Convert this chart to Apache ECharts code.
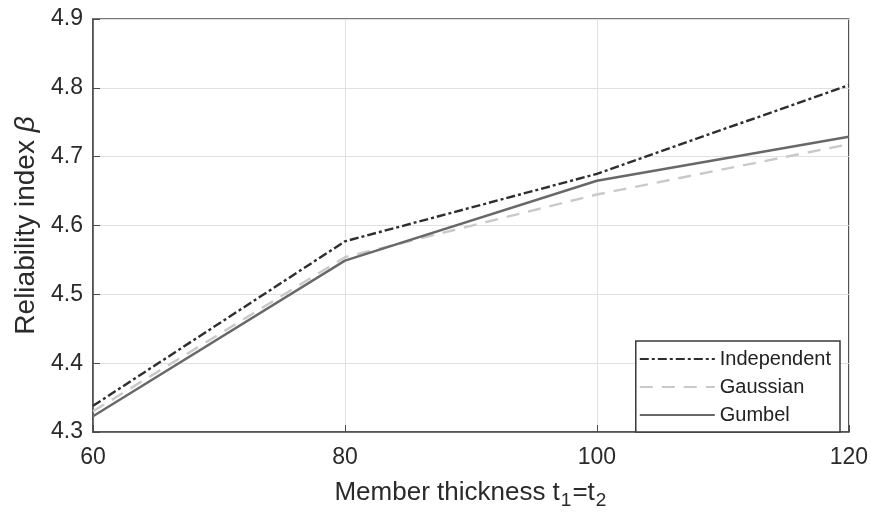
<!DOCTYPE html>
<html><head><meta charset="utf-8">
<script src="https://cdn.jsdelivr.net/npm/echarts@6/dist/echarts.min.js"></script>
<style>html,body{margin:0;padding:0;background:#fff}#c{width:871px;height:515px}</style>
</head><body><div id="c"></div>
<script>
var thickness = [60, 80, 100, 120];
var independent = [4.338, 4.577, 4.675, 4.804];
var gaussian = [4.330, 4.554, 4.645, 4.718];
var gumbel = [4.323, 4.549, 4.665, 4.729];
var seriesNames = ['Independent', 'Gaussian', 'Gumbel'];

function pairs(v){ return thickness.map(function(x,i){ return [x, v[i]]; }); }
var font = 'Liberation Sans, Arial, sans-serif';
var chart = echarts.init(document.getElementById('c'));
chart.setOption({
  backgroundColor: '#fff',
  animation: false,
  grid: {left: 93, right: 20, top: 19, bottom: 83, show: true, borderColor: '#4a4a4a', borderWidth: 1.5},
  legend: {
    right: 31, bottom: 83, orient: 'vertical',
    backgroundColor: '#fff', borderColor: '#3a3a3a', borderWidth: 1.5, borderRadius: 0,
    padding: [8, 9, 7, 3], itemGap: 8, itemWidth: 75, itemHeight: 14,
    itemStyle: {opacity: 0},
    textStyle: {fontFamily: font, fontSize: 20, color: '#222'},
    data: seriesNames
  },
  xAxis: {
    type: 'value', min: 60, max: 120, interval: 20,
    name: '{a|Member thickness t}{s|1}{a|=t}{s|2}', nameLocation: 'middle', nameGap: 44,
    nameTextStyle: {rich: {a: {fontFamily: font, fontSize: 26, color: '#2a2a2a'}, s: {fontFamily: font, fontSize: 19, color: '#2a2a2a', verticalAlign: 'bottom', padding: [15,1,0,1]}}},
    axisLine: {show: true, lineStyle: {color: '#4a4a4a', width: 1.5}},
    axisTick: {show: true, inside: true, length: 7, lineStyle: {color: '#4a4a4a'}},
    axisLabel: {fontFamily: font, fontSize: 23, color: '#2a2a2a', margin: 14},
    splitLine: {show: true, lineStyle: {color: '#e0e0e0', width: 1}}
  },
  yAxis: {
    type: 'value', min: 4.3, max: 4.9, interval: 0.1,
    name: '{a|Reliability index }{b|β}', nameLocation: 'middle', nameGap: 51,
    nameTextStyle: {rich: {a: {fontFamily: font, fontSize: 28, color: '#2a2a2a'}, b: {fontFamily: font, fontSize: 28, color: '#2a2a2a', fontStyle: 'italic'}}},
    axisLine: {show: true, lineStyle: {color: '#4a4a4a', width: 1.5}},
    axisTick: {show: true, inside: true, length: 7, lineStyle: {color: '#4a4a4a'}},
    axisLabel: {fontFamily: font, fontSize: 23, color: '#2a2a2a', margin: 10, formatter: function(v){ return v.toFixed(1); }},
    splitLine: {show: true, lineStyle: {color: '#e0e0e0', width: 1}}
  },
  series: [
    {name: seriesNames[0], type: 'line', data: pairs(independent), symbol: 'none', z: 4,
     lineStyle: {color: '#2e2e2e', width: 2.4, type: [9, 3, 3, 3]}, itemStyle: {color: '#2e2e2e'}},
    {name: seriesNames[1], type: 'line', data: pairs(gaussian), symbol: 'none', z: 2,
     lineStyle: {color: '#c9c9c9', width: 2.4, type: [13, 9]}, itemStyle: {color: '#c9c9c9'}},
    {name: seriesNames[2], type: 'line', data: pairs(gumbel), symbol: 'none', z: 3,
     lineStyle: {color: '#686868', width: 2.4, type: 'solid'}, itemStyle: {color: '#686868'}}
  ]
});
</script></body></html>
